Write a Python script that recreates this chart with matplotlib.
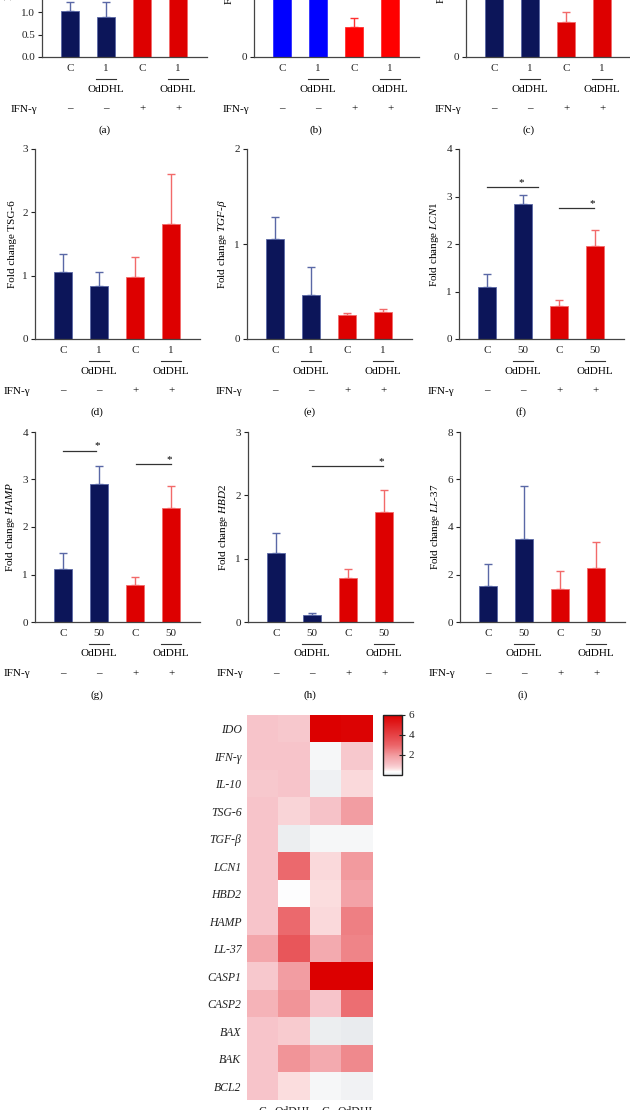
import numpy as np
import matplotlib.pyplot as plt
from matplotlib.colors import LinearSegmentedColormap
from matplotlib.transforms import blended_transform_factory, offset_copy

plt.rcParams['font.family'] = ['Liberation Serif', 'DejaVu Serif']
plt.rcParams['mathtext.fontset'] = 'custom'
plt.rcParams['mathtext.rm'] = 'Liberation Serif'
plt.rcParams['mathtext.it'] = 'Liberation Serif:italic'
plt.rcParams['font.size'] = 8

# bar data: C, OdDHL, C + IFN-g, OdDHL + IFN-g
ido_vals = [1.03, 0.89, 3.6, 3.4]
ido_err = [0.21, 0.35, 0.4, 0.4]
ifng_vals = [1.0, 0.97, 0.32, 1.02]
ifng_err = [0.15, 0.15, 0.09, 0.15]
il10_vals = [1.0, 0.98, 0.37, 0.95]
il10_err = [0.1, 0.1, 0.1, 0.1]
tsg6_vals = [1.06, 0.83, 0.98, 1.82]
tsg6_err = [0.29, 0.23, 0.32, 0.79]
tgfb_vals = [1.05, 0.46, 0.25, 0.28]
tgfb_err = [0.23, 0.30, 0.02, 0.04]
lcn1_vals = [1.09, 2.84, 0.69, 1.95]
lcn1_err = [0.28, 0.20, 0.14, 0.34]
hamp_vals = [1.11, 2.91, 0.78, 2.39]
hamp_err = [0.34, 0.38, 0.16, 0.47]
hbd2_vals = [1.09, 0.11, 0.69, 1.74]
hbd2_err = [0.32, 0.04, 0.14, 0.34]
ll37_vals = [1.50, 3.51, 1.39, 2.27]
ll37_err = [0.93, 2.22, 0.74, 1.10]

ifn_signs = ['–', '–', '+', '+']

# significance bars: (x start, x end, y, star x)
lcn1_sig = [(1.0, 2.4, 3.2, 1.95), (3.0, 3.97, 2.76, 3.93)]
hamp_sig = [(1.0, 1.92, 3.61, 1.94), (3.03, 4.0, 3.32, 3.94)]
hbd2_sig = [(2.0, 3.97, 2.46, 3.93)]

# heatmap
genes = ['IDO', 'IFN-γ', 'IL-10', 'TSG-6', 'TGF-β', 'LCN1', 'HBD2', 'HAMP',
         'LL-37', 'CASP1', 'CASP2', 'BAX', 'BAK', 'BCL2']
groups = ['C', 'OdDHL', 'C', 'OdDHL']
heat = np.array([
    [1.0, 0.95, 6.0, 5.9],
    [1.0, 1.0, 0.2, 0.95],
    [0.95, 1.0, 0.1, 0.7],
    [1.0, 0.75, 1.05, 1.9],
    [1.0, 0.05, 0.2, 0.2],
    [1.0, 2.9, 0.7, 2.0],
    [1.0, 0.3, 0.65, 1.8],
    [1.0, 2.9, 0.7, 2.5],
    [1.7, 3.4, 1.6, 2.4],
    [0.95, 1.9, 6.0, 6.0],
    [1.4, 2.1, 1.0, 2.8],
    [1.0, 0.9, 0.05, 0.0],
    [1.0, 2.1, 1.6, 2.3],
    [1.0, 0.65, 0.2, 0.12],
])

navy = '#0c1559'
red = '#dd0000'
W, H = 630, 1110
fig = plt.figure(figsize=(6.3, 11.1), dpi=100)


def px_axes(left, top, width, height):
    return fig.add_axes([left / W, 1 - (top + height) / H, width / W, height / H])


def bar_panel(left, base, vals, errs, ymax, step, ylabel, letter, dose,
              colors=(navy, red), errc=('#5a68a6', '#f26a6a'), fmt='%g', sig=()):
    ax = px_axes(left, base - 190, 165, 190)
    x = np.arange(1, 5)
    cols = [colors[0]] * 2 + [colors[1]] * 2
    ecols = [errc[0]] * 2 + [errc[1]] * 2
    for xi, v, e, c, ec in zip(x, vals, errs, cols, ecols):
        ax.bar(xi, v, width=0.5, color=c, edgecolor=ec, linewidth=0.6, zorder=2)
        ax.errorbar(xi, v, yerr=[[0], [e]], color=ec, capsize=2.8, lw=1,
                    capthick=1, zorder=1)
    ax.set_xlim(0.22, 4.8)
    ax.set_ylim(0, ymax)
    ticks = np.arange(0, ymax + 1e-9, step)
    ax.set_yticks(ticks, [fmt % t for t in ticks])
    ax.set_xticks(x, ['C', dose, 'C', dose])
    ax.tick_params(axis='x', length=0, pad=5, colors='#222222')
    ax.tick_params(axis='y', length=3, width=0.8, pad=2, colors='#222222')
    for s in ['top', 'right']:
        ax.spines[s].set_visible(False)
    for s in ['left', 'bottom']:
        ax.spines[s].set_color('#444444')
        ax.spines[s].set_linewidth(0.9)
    ax.set_ylabel(ylabel, labelpad=4)

    bl = blended_transform_factory(ax.transData, ax.transAxes)
    t_line = offset_copy(bl, fig=fig, y=-22, units='dots')
    t_od = offset_copy(bl, fig=fig, y=-32, units='dots')
    t_ifn = offset_copy(bl, fig=fig, y=-52, units='dots')
    t_let = offset_copy(bl, fig=fig, y=-73, units='dots')
    for xc in [2, 4]:
        ax.plot([xc - 0.28, xc + 0.28], [0, 0], transform=t_line, color='#333333',
                lw=0.8, clip_on=False)
        ax.text(xc, 0, 'OdDHL', transform=t_od, ha='center', va='center')
    for xi, s in zip(x, ifn_signs):
        ax.text(xi, 0, s, transform=t_ifn, ha='center', va='center')
    t_lab = offset_copy(ax.transAxes, fig=fig, x=-5, y=-52, units='dots')
    ax.text(0, 0, 'IFN-γ', transform=t_lab, ha='right', va='center')
    ax.text(1.95, 0, '(%s)' % letter, transform=t_let, ha='center', va='center')

    for x0, x1, y, sx in sig:
        ax.plot([x0, x1], [y, y], color='#333333', lw=0.9)
        ax.text(sx, y, '*', ha='center', va='bottom', fontsize=8)
    return ax


# row 1 (cut off at the top)
bar_panel(42, 57, ido_vals, ido_err, 4.25, 0.5, 'Fold change $\\it{IDO}$', 'a', '1', fmt='%.1f')
bar_panel(254, 57, ifng_vals, ifng_err, 2, 1, 'Fold change $\\it{IFN}$-$\\gamma$', 'b', '1',
          colors=('#0000ff', '#ff0000'), errc=('#3030ff', '#ff3030'))
bar_panel(466, 57, il10_vals, il10_err, 2, 1, 'Fold change $\\it{IL}$-$\\it{10}$', 'c', '1')

# row 2
bar_panel(35, 339, tsg6_vals, tsg6_err, 3, 1, 'Fold change TSG-6', 'd', '1')
bar_panel(247, 339, tgfb_vals, tgfb_err, 2, 1, 'Fold change $\\it{TGF}$-$\\beta$', 'e', '1')
bar_panel(459, 339, lcn1_vals, lcn1_err, 4, 1, 'Fold change $\\it{LCN1}$', 'f', '50', sig=lcn1_sig)

# row 3
bar_panel(35, 622, hamp_vals, hamp_err, 4, 1, 'Fold change $\\it{HAMP}$', 'g', '50', sig=hamp_sig)
bar_panel(248, 622, hbd2_vals, hbd2_err, 3, 1, 'Fold change $\\it{HBD2}$', 'h', '50', sig=hbd2_sig)
bar_panel(460, 622, ll37_vals, ll37_err, 8, 2, 'Fold change $\\it{LL}$-$\\it{37}$', 'i', '50')

# heatmap
cmap = LinearSegmentedColormap.from_list('wr', [
    (0.0, '#e9ebee'), (0.3 / 6, '#ffffff'), (0.65 / 6, '#fbdcdd'), (1.0 / 6, '#f7c4ca'),
    (2.0 / 6, '#f29a9e'), (3.0 / 6, '#eb6468'), (3.5 / 6, '#e85357'), (1.0, '#dc0000')])
hax = px_axes(247, 715, 125.5, 385)
im = hax.imshow(heat, cmap=cmap, vmin=0, vmax=6, aspect='auto', interpolation='nearest')
hax.set_yticks(range(len(genes)), genes, fontstyle='italic', fontsize=8.5)
hax.set_xticks(range(4), groups, fontsize=8.5)
hax.tick_params(length=0, pad=4, colors='#222222')
for s in hax.spines.values():
    s.set_visible(False)

cax = px_axes(383, 715, 19, 60)
cb = fig.colorbar(im, cax=cax, ticks=[2, 4, 6])
cb.outline.set_linewidth(1)
cb.outline.set_edgecolor('#222222')
cax.tick_params(direction='inout', length=4, width=0.8, pad=3, colors='#222222')

fig.savefig('out.png', dpi=100)
